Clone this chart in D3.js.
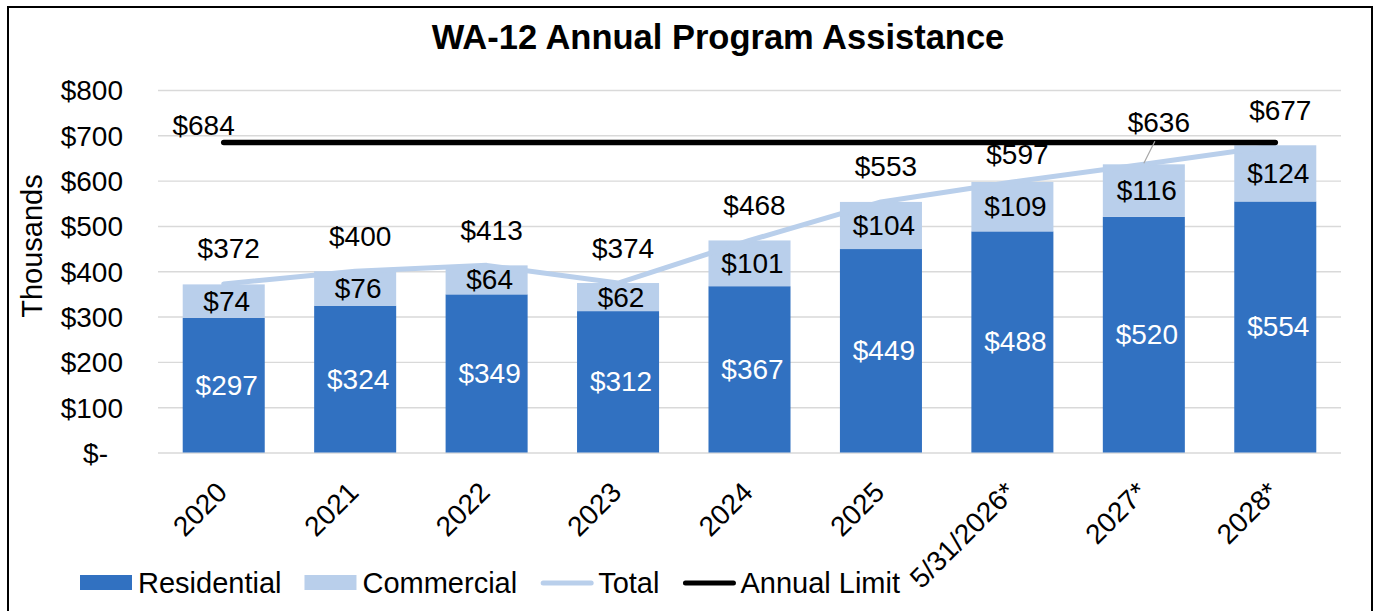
<!DOCTYPE html>
<html>
<head>
<meta charset="utf-8">
<script src="https://cdn.jsdelivr.net/npm/d3@7"></script>
<style>
  html, body { margin: 0; padding: 0; background: #fff; }
  svg { display: block; font-family: "Liberation Sans", Arial, sans-serif; }
</style>
</head>
<body>
<svg id="chart" width="1376" height="611"></svg>
<script>
// ---- data ----
const categories = ["2020", "2021", "2022", "2023", "2024", "2025", "5/31/2026*", "2027*", "2028*"];
const residential = [297, 324, 349, 312, 367, 449, 488, 520, 554];
const commercial  = [74, 76, 64, 62, 101, 104, 109, 116, 124];
const total       = [372, 400, 413, 374, 468, 553, 597, 636, 677];
const annualLimit = 684;
const yTicks = [0, 100, 200, 300, 400, 500, 600, 700, 800];
const title = "WA-12 Annual Program Assistance";
const yTitle = "Thousands";
const legendNames = ["Residential", "Commercial", "Total", "Annual Limit"];

// ---- styles ----
const C_RES = "#3171C1", C_COM = "#B9CFEB", C_TOT = "#B9CFEB", C_LIM = "#000000";
const FS = 28;
const FS_LEG = 29;

const svg = d3.select("#chart");
const W = 1376, H = 611;

svg.append("rect").attr("width", W).attr("height", H).attr("fill", "#fff");
svg.append("rect").attr("x", 8).attr("y", 7).attr("width", 1364).attr("height", 700)
  .attr("fill", "none").attr("stroke", "#000").attr("stroke-width", 2);

const x = d3.scaleBand().domain(categories).range([158, 1341]).paddingInner(0.376).paddingOuter(0.188);
const y = d3.scaleLinear().domain([0, 800]).range([452.5, 90]);
const cx = c => x(c) + x.bandwidth() / 2;
const fmt = v => v === 0 ? "$-" : "$" + v;

// gridlines + y tick labels
const yAxis = d3.axisLeft(y).tickValues(yTicks).tickSize(-(1341 - 158)).tickFormat(fmt).tickPadding(35);
const gy = svg.append("g").attr("transform", "translate(158,0)").call(yAxis);
gy.select(".domain").remove();
gy.selectAll(".tick line").attr("stroke", "#D9D9D9").attr("stroke-width", 1.4);
gy.selectAll(".tick text").attr("font-size", FS).attr("fill", "#000")
  .attr("font-family", "Liberation Sans, Arial, sans-serif")
  .attr("dy", "0.35em")
  .attr("dx", d => d === 0 ? -15 : 0);

// bars
const rows = categories.map((c, i) => ({ c, res: residential[i], com: commercial[i], tot: total[i], i }));
svg.append("g").selectAll("rect").data(rows).join("rect")
  .attr("x", d => x(d.c)).attr("width", x.bandwidth())
  .attr("y", d => y(d.res)).attr("height", d => y(0) - y(d.res))
  .attr("fill", C_RES);
svg.append("g").selectAll("rect").data(rows).join("rect")
  .attr("x", d => x(d.c)).attr("width", x.bandwidth())
  .attr("y", d => y(d.res + d.com)).attr("height", d => y(d.res) - y(d.res + d.com))
  .attr("fill", C_COM);

// total line
const line = d3.line().x(d => cx(d.c)).y(d => y(d.tot));
svg.append("path").datum(rows).attr("d", line).attr("fill", "none")
  .attr("stroke", C_TOT).attr("stroke-width", 5).attr("stroke-linecap", "round").attr("stroke-linejoin", "round");

// annual limit line
const limLine = d3.line().x(d => cx(d.c)).y(() => y(annualLimit));
svg.append("path").datum(rows).attr("d", limLine).attr("fill", "none")
  .attr("stroke", C_LIM).attr("stroke-width", 5.5).attr("stroke-linecap", "round");

// data labels
const lbl = svg.append("g").attr("font-size", FS).attr("text-anchor", "middle").attr("dominant-baseline", "central");
lbl.selectAll(".res").data(rows).join("text")
  .attr("x", d => cx(d.c) + 3).attr("y", d => y(d.res / 2)).attr("fill", "#fff")
  .text(d => "$" + d.res);
lbl.selectAll(".com").data(rows).join("text")
  .attr("x", d => cx(d.c) + 3).attr("y", d => y(d.res + d.com / 2)).attr("fill", "#000")
  .text(d => "$" + d.com);

// total labels (nudged like the reference)
const totDy = i => i === 6 ? 27 : (i === 7 ? 42 : 35);
const totDx = i => i === 7 ? 15 : 5;
lbl.selectAll(".tot").data(rows).join("text")
  .attr("x", d => cx(d.c) + totDx(d.i)).attr("y", d => y(d.tot) - totDy(d.i)).attr("fill", "#000")
  .text(d => "$" + d.tot);
// leader line for the nudged label
const lead = rows[7];
svg.append("line")
  .attr("x1", cx(lead.c)).attr("y1", y(lead.tot) - 1)
  .attr("x2", cx(lead.c) + 11).attr("y2", y(lead.tot) - totDy(7) + 19)
  .attr("stroke", "#A6A6A6").attr("stroke-width", 1.2);

// annual limit label
svg.append("text").attr("x", cx(categories[0]) + 11).attr("y", y(annualLimit) - 17)
  .attr("font-size", FS).attr("text-anchor", "end").attr("dominant-baseline", "central")
  .text("$" + annualLimit);

// x labels
svg.append("g").selectAll("text").data(categories).join("text")
  .attr("font-size", FS).attr("text-anchor", "end")
  .attr("transform", c => `translate(${cx(c) + 5},494) rotate(-45)`)
  .text(c => c);

// title
svg.append("text").attr("x", 718).attr("y", 49).attr("text-anchor", "middle")
  .attr("font-size", 34.5).attr("font-weight", "bold").text(title);

// y title
svg.append("text").attr("transform", "translate(42,246) rotate(-90)")
  .attr("text-anchor", "middle").attr("font-size", FS_LEG).text(yTitle);

// legend
const leg = svg.append("g");
let lx = 80;
const ly = 583;
legendNames.forEach((name, i) => {
  if (i < 2) {
    leg.append("rect").attr("x", lx).attr("y", ly - 8).attr("width", 52).attr("height", 15)
      .attr("fill", i === 0 ? C_RES : C_COM);
  } else {
    leg.append("line").attr("x1", lx + 3).attr("x2", lx + 51).attr("y1", ly).attr("y2", ly)
      .attr("stroke", i === 2 ? C_TOT : C_LIM).attr("stroke-width", 5).attr("stroke-linecap", "round");
  }
  const t = leg.append("text").attr("x", lx + 58).attr("y", ly).attr("dominant-baseline", "central")
    .attr("font-size", FS_LEG).text(name);
  lx = lx + 58 + t.node().getComputedTextLength() + 23;
});
</script>
</body>
</html>
